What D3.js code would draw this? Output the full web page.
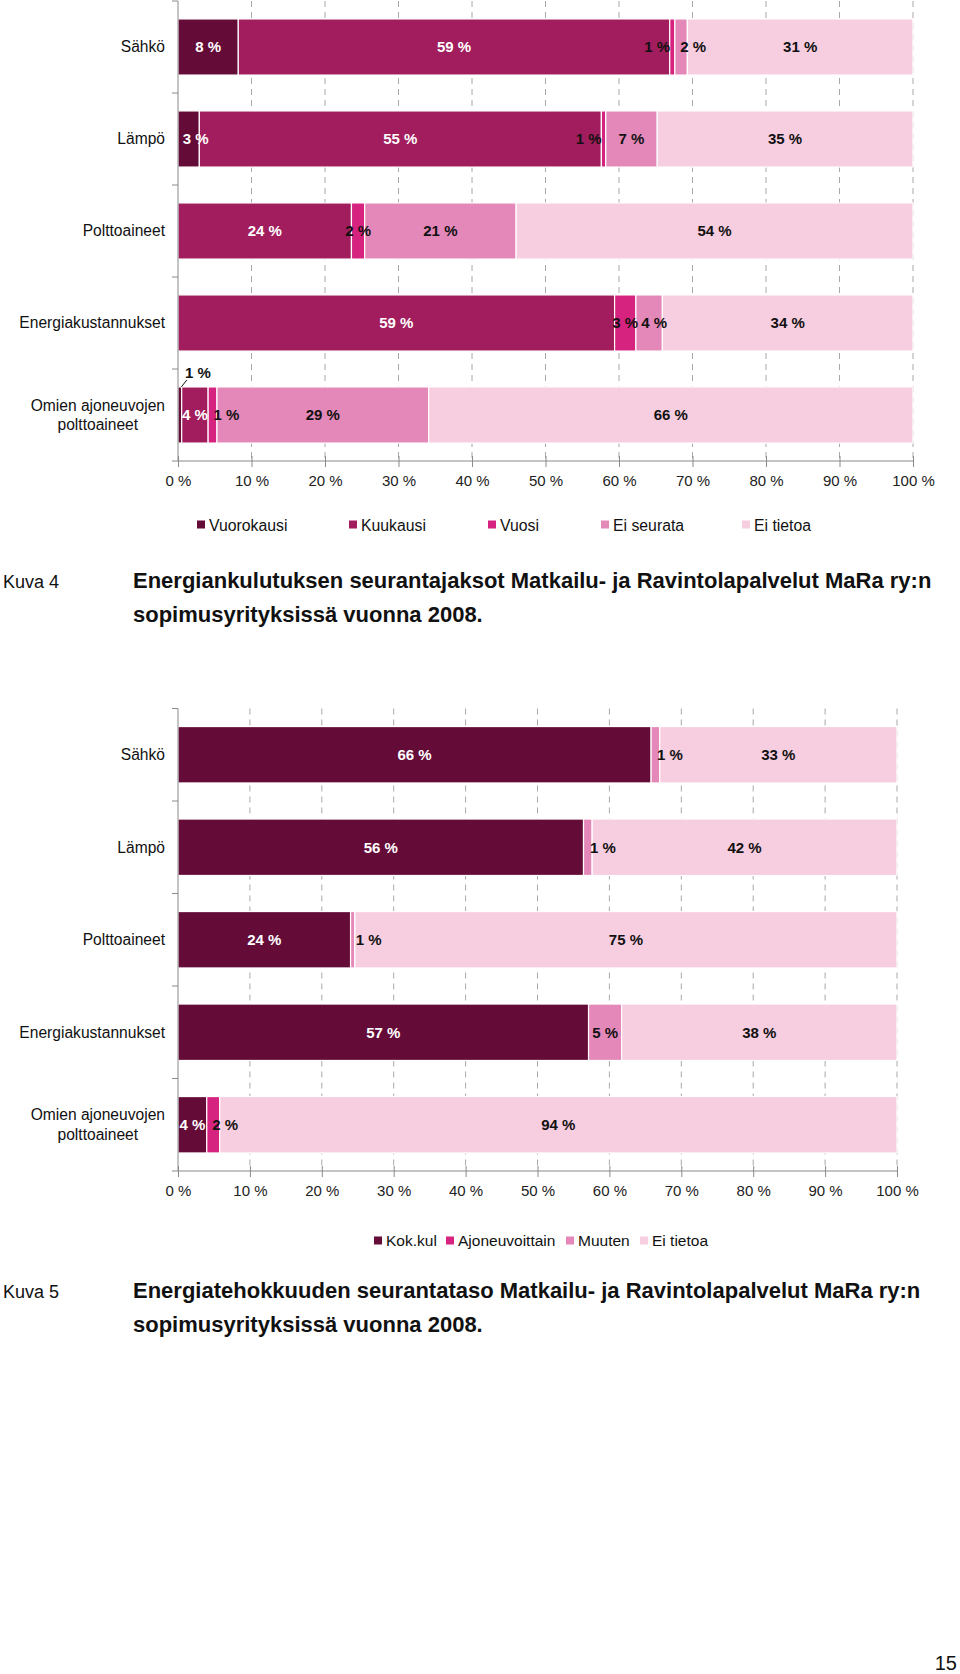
<!DOCTYPE html>
<html>
<head>
<meta charset="utf-8">
<script src="https://cdn.jsdelivr.net/npm/d3@7/dist/d3.min.js"></script>
<style>
  html, body { margin: 0; padding: 0; background: #fff; }
  svg { display: block; }
  text { font-family: "Liberation Sans", Arial, Helvetica, sans-serif; }
</style>
</head>
<body>
<svg id="page" width="960" height="1674"></svg>
<script>
// ---------------- DATA ----------------
const categories = ["Sähkö", "Lämpö", "Polttoaineet", "Energiakustannukset", "Omien ajoneuvojen polttoaineet"];
const xTicks = [0, 10, 20, 30, 40, 50, 60, 70, 80, 90, 100];

// Kuva 4 – Energiankulutuksen seurantajaksot
const seriesNames1 = ["Vuorokausi", "Kuukausi", "Vuosi", "Ei seurata", "Ei tietoa"];
const vuorokausi = [8.2, 2.9, 0, 0, 0.5];
const kuukausi   = [58.7, 54.7, 23.6, 59.4, 3.6];
const vuosi      = [0.7, 0.6, 1.8, 2.9, 1.2];
const eiSeurata  = [1.7, 7.0, 20.6, 3.6, 28.8];
const eiTietoa1  = [30.7, 34.8, 54.0, 34.1, 65.9];

// Kuva 5 – Energiatehokkuuden seurantataso
const seriesNames2 = ["Kok.kul", "Ajoneuvoittain", "Muuten", "Ei tietoa"];
const kokKul         = [65.8, 56.4, 24.0, 57.1, 4.0];
const ajoneuvoittain = [0, 0, 0, 0, 1.8];
const muuten         = [1.2, 1.2, 0.6, 4.6, 0];
const eiTietoa2      = [33.0, 42.4, 75.4, 38.3, 94.2];

const caption1 = ["Energiankulutuksen seurantajaksot Matkailu- ja Ravintolapalvelut MaRa ry:n", "sopimusyrityksissä vuonna 2008."];
const caption2 = ["Energiatehokkuuden seurantataso Matkailu- ja Ravintolapalvelut MaRa ry:n", "sopimusyrityksissä vuonna 2008."];

// ---------------- STYLE / LAYOUT ----------------
const C_DARK = "#650b38", C_KUU = "#a21d5d", C_VUOSI = "#d5237f", C_EIS = "#e488b9", C_EIT = "#f7cde0";

const svg = d3.select("#page");

function drawChart(cfg) {
  const g = svg.append("g");
  const x = d3.scaleLinear().domain([0, 100]).range([cfg.x0, cfg.x1]);
  const y = d3.scaleBand().domain(categories).range([cfg.yTop, cfg.yBottom]).padding(0);
  const barH = y.bandwidth() * 0.61;

  // gridlines (dashed)
  g.append("g").selectAll("line").data(xTicks.slice(1)).join("line")
    .attr("x1", d => x(d)).attr("x2", d => x(d))
    .attr("y1", cfg.yTop).attr("y2", cfg.yBottom)
    .attr("stroke", "#a8a8a8").attr("stroke-width", 1)
    .attr("stroke-dasharray", "6,5");

  // stacked data
  const rows = categories.map((c, i) => {
    const r = { cat: c };
    cfg.series.forEach((s, j) => r[s] = cfg.values[j][i]);
    return r;
  });
  const stack = d3.stack().keys(cfg.series)(rows);

  const bars = g.append("g");
  stack.forEach((layer, j) => {
    bars.selectAll(null).data(layer).join("rect")
      .filter(d => d[1] - d[0] > 0)
      .attr("x", d => x(d[0]))
      .attr("width", d => Math.max(0, x(d[1]) - x(d[0])))
      .attr("y", d => y(d.data.cat) + (y.bandwidth() - barH) / 2)
      .attr("height", barH)
      .attr("fill", cfg.colors[j])
      .attr("stroke", "#fff").attr("stroke-width", 1.2);
  });

  // axes
  const axisColor = "#8a8a8a";
  g.append("line").attr("x1", cfg.x0).attr("x2", cfg.x0)
    .attr("y1", cfg.yTop).attr("y2", cfg.yBottom).attr("stroke", axisColor);
  const bounds = categories.map(c => y(c)).concat([cfg.yBottom]);
  g.append("g").selectAll("line").data(bounds).join("line")
    .attr("x1", cfg.x0 - 6).attr("x2", cfg.x0).attr("y1", d => d).attr("y2", d => d)
    .attr("stroke", axisColor);

  const xAxis = d3.axisBottom(x).tickValues(xTicks).tickFormat(d => d + " %").tickSize(6).tickPadding(8);
  const ax = g.append("g").attr("transform", `translate(0,${cfg.yBottom})`).call(xAxis);
  ax.select(".domain").attr("stroke", axisColor).attr("d", `M${cfg.x0},0H${cfg.x1}`);
  ax.selectAll(".tick line").attr("stroke", axisColor).attr("y1", -5).attr("y2", 6);
  ax.selectAll(".tick text").attr("fill", "#222").style("font-size", "15px")
    .style("font-family", '"Liberation Sans", Arial, sans-serif');

  // category labels
  categories.forEach(c => {
    const words = c.split(" ");
    const lines = words.length > 2 ? [words.slice(0, 2).join(" "), words.slice(2).join(" ")] : [c];
    const cy = y(c) + y.bandwidth() / 2;
    const t = g.append("text").attr("fill", "#111").style("font-size", "15.6px");
    lines.forEach((ln, k) => {
      t.append("tspan").attr("y", cy + (k - (lines.length - 1) / 2) * 19.5).attr("dy", "0.35em").text(ln);
    });
    if (lines.length === 1) {
      t.attr("text-anchor", "end").selectAll("tspan").attr("x", cfg.labelRight);
    } else {
      let w = 0;
      t.selectAll("tspan").each(function () { w = Math.max(w, this.getComputedTextLength()); });
      t.attr("text-anchor", "middle").selectAll("tspan").attr("x", cfg.labelRight - w / 2);
    }
  });

  // value labels
  const lab = g.append("g");
  stack.forEach((layer, j) => {
    layer.forEach(d => {
      const v = d[1] - d[0];
      if (v <= 0) return;
      const key = d.data.cat + "|" + cfg.series[j];
      let cx = x((d[0] + d[1]) / 2) + (cfg.nudges[key] || 0);
      let cy = y(d.data.cat) + y.bandwidth() / 2;
      let fill = cfg.whiteLabels.includes(j) ? "#fff" : "#111";
      const co = cfg.callouts[key];
      if (co) {
        const bx = x((d[0] + d[1]) / 2);
        const barTop = y(d.data.cat) + (y.bandwidth() - barH) / 2;
        lab.append("line").attr("x1", bx + 1.5).attr("y1", barTop)
          .attr("x2", bx + co.dx - 7).attr("y2", barTop - 7)
          .attr("stroke", "#111").attr("stroke-width", 1);
        cx = bx + co.dx + 4;
        cy = barTop - 14;
        fill = "#111";
      }
      lab.append("text").attr("x", cx).attr("y", cy).attr("dy", "0.35em")
        .attr("text-anchor", "middle").attr("fill", fill)
        .style("font-size", "15px").style("font-weight", "bold")
        .text(Math.round(v) + " %");
    });
  });

  // legend
  const lg = g.append("g");
  cfg.series.forEach((s, j) => {
    const lx = cfg.legendX[j];
    lg.append("rect").attr("x", lx).attr("y", cfg.legendY - 4.5).attr("width", 8).attr("height", 8)
      .attr("fill", cfg.colors[j]);
    lg.append("text").attr("x", lx + 12).attr("y", cfg.legendY).attr("dy", "0.35em")
      .attr("fill", "#111").style("font-size", cfg.legendFont).text(s);
  });

  // caption
  svg.append("text").attr("x", 3).attr("y", cfg.captionY).attr("fill", "#111")
    .style("font-size", "18px").text(cfg.kuva);
  cfg.caption.forEach((ln, k) => {
    svg.append("text").attr("x", 133).attr("y", cfg.captionY + k * 33.5).attr("fill", "#111")
      .style("font-size", "22px").style("font-weight", "bold").text(ln);
  });
}

drawChart({
  series: seriesNames1,
  values: [vuorokausi, kuukausi, vuosi, eiSeurata, eiTietoa1],
  colors: [C_DARK, C_KUU, C_VUOSI, C_EIS, C_EIT],
  whiteLabels: [0, 1],
  x0: 178, x1: 913, yTop: 1, yBottom: 461, labelRight: 165,
  nudges: {
    "Sähkö|Vuosi": -15, "Sähkö|Ei seurata": 12, "Lämpö|Vuosi": -15, "Lämpö|Vuorokausi": 7,
    "Energiakustannukset|Ei seurata": 5, "Omien ajoneuvojen polttoaineet|Vuosi": 14
  },
  callouts: { "Omien ajoneuvojen polttoaineet|Vuorokausi": { dx: 14 } },
  legendX: [197, 349, 488, 601, 742], legendY: 525, legendFont: "15.8px",
  kuva: "Kuva 4", caption: caption1, captionY: 588
});

drawChart({
  series: seriesNames2,
  values: [kokKul, ajoneuvoittain, muuten, eiTietoa2],
  colors: [C_DARK, C_VUOSI, C_EIS, C_EIT],
  whiteLabels: [0],
  x0: 178, x1: 897, yTop: 708.5, yBottom: 1171, labelRight: 165,
  nudges: {
    "Sähkö|Muuten": 14.5, "Lämpö|Muuten": 15, "Polttoaineet|Muuten": 16,
    "Omien ajoneuvojen polttoaineet|Ajoneuvoittain": 12
  },
  callouts: {},
  legendX: [374, 446, 566, 640], legendY: 1241, legendFont: "15.5px",
  kuva: "Kuva 5", caption: caption2, captionY: 1298
});

svg.append("text").attr("x", 957).attr("y", 1670).attr("text-anchor", "end")
  .attr("fill", "#111").style("font-size", "20px").text("15");
</script>
</body>
</html>
